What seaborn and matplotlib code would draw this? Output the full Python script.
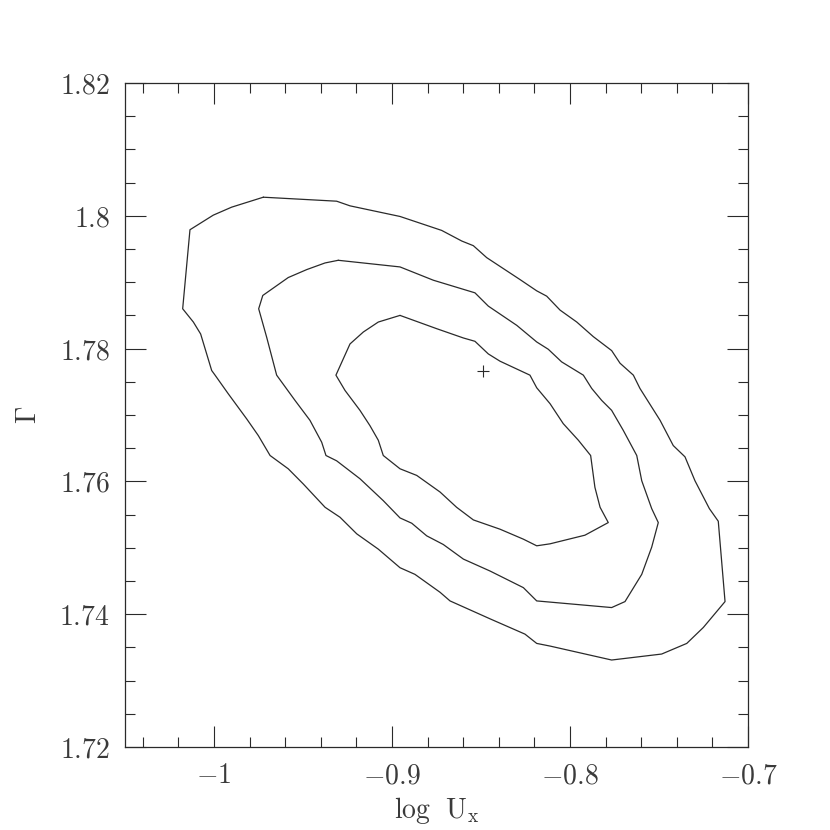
import numpy as np
import pandas as pd
import seaborn as sns
import matplotlib.pyplot as plt
from matplotlib.ticker import MultipleLocator


sns.set_theme(style="ticks")
plt.rcParams["font.family"] = ["DejaVu Serif", "DejaVu Sans"]
plt.rcParams["mathtext.fontset"] = "cm"

# contour levels (log Ux, Gamma)
outer_x = [-0.9723, -0.9311, -0.9236, -0.8955, -0.8721, -0.8608, -0.8543, -0.8468, -0.8281,
           -0.8187, -0.8131, -0.8056, -0.7962, -0.7869, -0.7766, -0.7719, -0.7644, -0.7607,
           -0.7494, -0.7420, -0.7354, -0.7298, -0.7217, -0.7167, -0.7129, -0.7251, -0.7344,
           -0.7485, -0.7766, -0.8112, -0.8187, -0.8253, -0.8449, -0.8674, -0.8730, -0.8871,
           -0.8955, -0.9077, -0.9198, -0.9292, -0.9376, -0.9498, -0.9583, -0.9685, -0.9751,
           -0.9816, -0.9920, -0.9994, -1.0013, -1.0075, -1.0116, -1.0176, -1.0135, -1.0004,
           -0.9901]
outer_y = [1.8028, 1.8022, 1.8015, 1.7999, 1.7978, 1.7962, 1.7955, 1.7937, 1.7904,
           1.7887, 1.7879, 1.7858, 1.7840, 1.7818, 1.7797, 1.7778, 1.7760, 1.7740,
           1.7692, 1.7654, 1.7637, 1.7601, 1.7559, 1.7540, 1.7419, 1.7380, 1.7356,
           1.7340, 1.7331, 1.7352, 1.7356, 1.7370, 1.7393, 1.7420, 1.7433, 1.7460,
           1.7470, 1.7498, 1.7521, 1.7546, 1.7561, 1.7596, 1.7619, 1.7639, 1.7669,
           1.7694, 1.7732, 1.7760, 1.7767, 1.7822, 1.7840, 1.7860, 1.7979, 1.8001,
           1.8013]

middle_x = [-0.9302, -0.8955, -0.8768, -0.8608, -0.8534, -0.8459, -0.8299, -0.8187, -0.8122,
            -0.8047, -0.7925, -0.7878, -0.7822, -0.7766, -0.7701, -0.7625, -0.7597, -0.7541,
            -0.7504, -0.7541, -0.7597, -0.7691, -0.7766, -0.8187, -0.8262, -0.8449, -0.8599,
            -0.8712, -0.8805, -0.8889, -0.8955, -0.9049, -0.9180, -0.9311, -0.9371, -0.9395,
            -0.9461, -0.9545, -0.9648, -0.9704, -0.9749, -0.9726, -0.9583, -0.9479, -0.9376]
middle_y = [1.7933, 1.7923, 1.7903, 1.7890, 1.7884, 1.7864, 1.7835, 1.7810, 1.7799,
            1.7780, 1.7760, 1.7740, 1.7722, 1.7707, 1.7677, 1.7639, 1.7601, 1.7559,
            1.7538, 1.7501, 1.7460, 1.7419, 1.7410, 1.7420, 1.7440, 1.7465, 1.7483,
            1.7505, 1.7518, 1.7537, 1.7545, 1.7571, 1.7604, 1.7631, 1.7639, 1.7659,
            1.7692, 1.7722, 1.7760, 1.7817, 1.7860, 1.7880, 1.7907, 1.7919, 1.7929]

inner_x = [-0.8955, -0.8749, -0.8599, -0.8534, -0.8459, -0.8393, -0.8225, -0.8187, -0.8112,
           -0.8038, -0.7953, -0.7884, -0.7865, -0.7860, -0.7831, -0.7785, -0.7916, -0.8112,
           -0.8187, -0.8262, -0.8393, -0.8543, -0.8637, -0.8730, -0.8861, -0.8955, -0.9049,
           -0.9077, -0.9124, -0.9180, -0.9264, -0.9315, -0.9236, -0.9161, -0.9077]
inner_y = [1.7850, 1.7830, 1.7816, 1.7811, 1.7792, 1.7781, 1.7760, 1.7741, 1.7717,
           1.7687, 1.7662, 1.7639, 1.7601, 1.7591, 1.7561, 1.7538, 1.7519, 1.7506,
           1.7503, 1.7513, 1.7528, 1.7542, 1.7561, 1.7584, 1.7609, 1.7619, 1.7639,
           1.7662, 1.7684, 1.7707, 1.7737, 1.7760, 1.7807, 1.7825, 1.7840]

best_x = [-0.8487]
best_y = [1.7766]

xticks = [-1.0, -0.9, -0.8, -0.7]
xtick_labels = ["$-1$", "$-0.9$", "$-0.8$", "$-0.7$"]
yticks = [1.72, 1.74, 1.76, 1.78, 1.80, 1.82]
ytick_labels = ["$1.72$", "$1.74$", "$1.76$", "$1.78$", "$1.8$", "$1.82$"]

ink = "#2a2a2a"
text_col = "#3a3a3a"

fig = plt.figure(figsize=(8.3, 8.3), dpi=100)
ax = fig.add_axes([125 / 830, 1 - 747 / 830, 623 / 830, 664 / 830])

for cx, cy in [(outer_x, outer_y), (middle_x, middle_y), (inner_x, inner_y)]:
    d = pd.DataFrame({"x": cx + cx[:1], "y": cy + cy[:1]})
    sns.lineplot(data=d, x="x", y="y", sort=False, estimator=None,
                 color=ink, lw=0.9, ax=ax)

ax.plot(best_x, best_y, marker="+", ms=8, mew=0.8, color=ink, ls="none")

ax.set_xlim(-1.05, -0.7)
ax.set_ylim(1.72, 1.82)
ax.set_xticks(xticks)
ax.set_xticklabels(xtick_labels)
ax.set_yticks(yticks)
ax.set_yticklabels(ytick_labels)
ax.xaxis.set_minor_locator(MultipleLocator(0.02))
ax.yaxis.set_minor_locator(MultipleLocator(0.005))

ax.tick_params(which="both", direction="in", top=True, right=True,
               color=ink, width=0.8, labelsize=20, labelcolor=text_col)
ax.tick_params(which="major", length=15, pad=11)
ax.tick_params(which="minor", length=7.5)
for s in ax.spines.values():
    s.set_color(ink)
    s.set_linewidth(0.9)

ax.set_xlabel("$\\mathrm{log\\ \\ U_x}$", fontsize=20, color=text_col, labelpad=4)
ax.set_ylabel("$\\Gamma$", fontsize=20, color=text_col, labelpad=12)

fig.savefig("out.png", dpi=100)
